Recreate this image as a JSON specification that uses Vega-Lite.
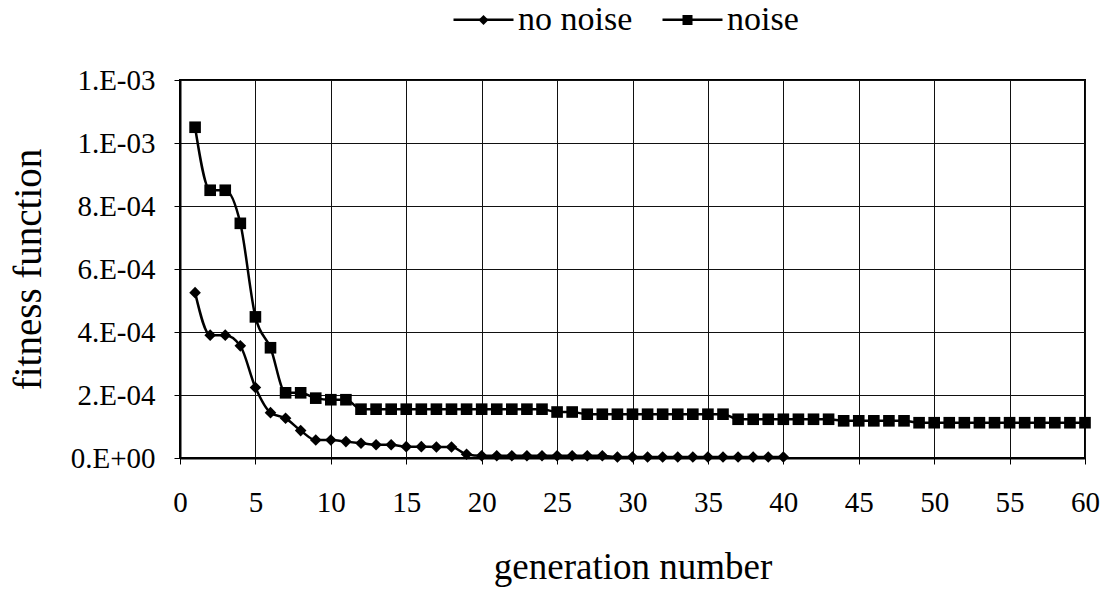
{
  "$schema": "https://vega.github.io/schema/vega-lite/v6.json",
  "width": 905,
  "height": 378,
  "autosize": {"type": "none"},
  "padding": {"left": 180, "top": 80, "right": 24, "bottom": 135},
  "background": "white",
  "config": {
    "font": "Liberation Serif",
    "view": {"stroke": "black", "strokeWidth": 2},
    "legend": {"labelFont": "Liberation Serif", "labelFontSize": 34, "labelColor": "black"}
  },
  "data": {
    "values": [
      {"gen": 1, "series": "no noise", "value": 0.000525},
      {"gen": 2, "series": "no noise", "value": 0.00039},
      {"gen": 3, "series": "no noise", "value": 0.00039},
      {"gen": 4, "series": "no noise", "value": 0.000356},
      {"gen": 5, "series": "no noise", "value": 0.000224},
      {"gen": 6, "series": "no noise", "value": 0.000144},
      {"gen": 7, "series": "no noise", "value": 0.000126},
      {"gen": 8, "series": "no noise", "value": 0.000087},
      {"gen": 9, "series": "no noise", "value": 0.000057},
      {"gen": 10, "series": "no noise", "value": 0.000057},
      {"gen": 11, "series": "no noise", "value": 0.000052},
      {"gen": 12, "series": "no noise", "value": 0.000047},
      {"gen": 13, "series": "no noise", "value": 0.000042},
      {"gen": 14, "series": "no noise", "value": 0.000042},
      {"gen": 15, "series": "no noise", "value": 0.000036},
      {"gen": 16, "series": "no noise", "value": 0.000036},
      {"gen": 17, "series": "no noise", "value": 0.000035},
      {"gen": 18, "series": "no noise", "value": 0.000035},
      {"gen": 19, "series": "no noise", "value": 0.000012},
      {"gen": 20, "series": "no noise", "value": 0.000007},
      {"gen": 21, "series": "no noise", "value": 0.000007},
      {"gen": 22, "series": "no noise", "value": 0.000007},
      {"gen": 23, "series": "no noise", "value": 0.000007},
      {"gen": 24, "series": "no noise", "value": 0.000007},
      {"gen": 25, "series": "no noise", "value": 0.000007},
      {"gen": 26, "series": "no noise", "value": 0.000007},
      {"gen": 27, "series": "no noise", "value": 0.000007},
      {"gen": 28, "series": "no noise", "value": 0.000007},
      {"gen": 29, "series": "no noise", "value": 0.000003},
      {"gen": 30, "series": "no noise", "value": 0.000003},
      {"gen": 31, "series": "no noise", "value": 0.000003},
      {"gen": 32, "series": "no noise", "value": 0.000003},
      {"gen": 33, "series": "no noise", "value": 0.000003},
      {"gen": 34, "series": "no noise", "value": 0.000003},
      {"gen": 35, "series": "no noise", "value": 0.000003},
      {"gen": 36, "series": "no noise", "value": 0.000003},
      {"gen": 37, "series": "no noise", "value": 0.000003},
      {"gen": 38, "series": "no noise", "value": 0.000003},
      {"gen": 39, "series": "no noise", "value": 0.000003},
      {"gen": 40, "series": "no noise", "value": 0.000003},
      {"gen": 1, "series": "noise", "value": 0.00105},
      {"gen": 2, "series": "noise", "value": 0.00085},
      {"gen": 3, "series": "noise", "value": 0.00085},
      {"gen": 4, "series": "noise", "value": 0.000745},
      {"gen": 5, "series": "noise", "value": 0.000448},
      {"gen": 6, "series": "noise", "value": 0.00035},
      {"gen": 7, "series": "noise", "value": 0.000207},
      {"gen": 8, "series": "noise", "value": 0.000207},
      {"gen": 9, "series": "noise", "value": 0.00019},
      {"gen": 10, "series": "noise", "value": 0.000185},
      {"gen": 11, "series": "noise", "value": 0.000185},
      {"gen": 12, "series": "noise", "value": 0.000155},
      {"gen": 13, "series": "noise", "value": 0.000155},
      {"gen": 14, "series": "noise", "value": 0.000155},
      {"gen": 15, "series": "noise", "value": 0.000155},
      {"gen": 16, "series": "noise", "value": 0.000155},
      {"gen": 17, "series": "noise", "value": 0.000155},
      {"gen": 18, "series": "noise", "value": 0.000155},
      {"gen": 19, "series": "noise", "value": 0.000155},
      {"gen": 20, "series": "noise", "value": 0.000155},
      {"gen": 21, "series": "noise", "value": 0.000155},
      {"gen": 22, "series": "noise", "value": 0.000155},
      {"gen": 23, "series": "noise", "value": 0.000155},
      {"gen": 24, "series": "noise", "value": 0.000155},
      {"gen": 25, "series": "noise", "value": 0.000146},
      {"gen": 26, "series": "noise", "value": 0.000146},
      {"gen": 27, "series": "noise", "value": 0.000139},
      {"gen": 28, "series": "noise", "value": 0.000139},
      {"gen": 29, "series": "noise", "value": 0.000139},
      {"gen": 30, "series": "noise", "value": 0.000139},
      {"gen": 31, "series": "noise", "value": 0.000139},
      {"gen": 32, "series": "noise", "value": 0.000139},
      {"gen": 33, "series": "noise", "value": 0.000139},
      {"gen": 34, "series": "noise", "value": 0.000139},
      {"gen": 35, "series": "noise", "value": 0.000139},
      {"gen": 36, "series": "noise", "value": 0.000139},
      {"gen": 37, "series": "noise", "value": 0.000123},
      {"gen": 38, "series": "noise", "value": 0.000123},
      {"gen": 39, "series": "noise", "value": 0.000123},
      {"gen": 40, "series": "noise", "value": 0.000123},
      {"gen": 41, "series": "noise", "value": 0.000123},
      {"gen": 42, "series": "noise", "value": 0.000123},
      {"gen": 43, "series": "noise", "value": 0.000123},
      {"gen": 44, "series": "noise", "value": 0.000118},
      {"gen": 45, "series": "noise", "value": 0.000118},
      {"gen": 46, "series": "noise", "value": 0.000118},
      {"gen": 47, "series": "noise", "value": 0.000118},
      {"gen": 48, "series": "noise", "value": 0.000118},
      {"gen": 49, "series": "noise", "value": 0.000112},
      {"gen": 50, "series": "noise", "value": 0.000112},
      {"gen": 51, "series": "noise", "value": 0.000112},
      {"gen": 52, "series": "noise", "value": 0.000112},
      {"gen": 53, "series": "noise", "value": 0.000112},
      {"gen": 54, "series": "noise", "value": 0.000112},
      {"gen": 55, "series": "noise", "value": 0.000112},
      {"gen": 56, "series": "noise", "value": 0.000112},
      {"gen": 57, "series": "noise", "value": 0.000112},
      {"gen": 58, "series": "noise", "value": 0.000112},
      {"gen": 59, "series": "noise", "value": 0.000112},
      {"gen": 60, "series": "noise", "value": 0.000112}
    ]
  },
  "encoding": {
    "x": {
      "field": "gen",
      "type": "quantitative",
      "scale": {"domain": [0, 60], "nice": false},
      "axis": {
        "title": "generation number",
        "values": [0, 5, 10, 15, 20, 25, 30, 35, 40, 45, 50, 55, 60],
        "grid": true,
        "gridColor": "#111",
        "gridWidth": 1,
        "gridOpacity": 1,
        "domainColor": "black",
        "domainWidth": 2,
        "tickColor": "black",
        "tickSize": 6,
        "tickWidth": 1,
        "labelFontSize": 29,
        "labelColor": "black",
        "labelPadding": 24,
        "labelFlush": false,
        "titleFontSize": 37,
        "titleFontWeight": "normal",
        "titleColor": "black",
        "titleBaseline": "alphabetic",
        "titleY": 120
      }
    },
    "y": {
      "field": "value",
      "type": "quantitative",
      "scale": {"domain": [0, 0.0012], "nice": false},
      "axis": {
        "title": "fitness function",
        "values": [0, 0.0002, 0.0004, 0.0006, 0.0008, 0.001, 0.0012],
        "labelExpr": "datum.value == 0 ? '0.E+00' : (datum.value < 0.0009 ? round(datum.value * 10000) + '.E-04' : '1.E-03')",
        "grid": true,
        "gridColor": "#111",
        "gridWidth": 1,
        "gridOpacity": 1,
        "domainColor": "black",
        "domainWidth": 2,
        "tickColor": "black",
        "tickSize": 6,
        "tickWidth": 1,
        "labelFontSize": 29,
        "labelColor": "black",
        "labelPadding": 19,
        "labelFlush": false,
        "titleFontSize": 39,
        "titleFontWeight": "normal",
        "titleColor": "black",
        "titleBaseline": "middle",
        "titleAlign": "center",
        "titleX": -152,
        "titleY": 189,
        "titleAngle": -90
      }
    }
  },
  "layer": [
    {
      "mark": {"type": "line", "strokeWidth": 2.5, "interpolate": "monotone"},
      "encoding": {
        "color": {
          "field": "series",
          "type": "nominal",
          "scale": {"domain": ["no noise", "noise"], "range": ["black", "black"]},
          "legend": {
            "title": null,
            "orient": "none",
            "direction": "horizontal",
            "columns": 2,
            "legendX": 272,
            "legendY": -92,
            "padding": 0,
            "symbolType": "stroke",
            "symbolSize": 3600,
            "symbolStrokeWidth": 2.5,
            "symbolStrokeColor": "black",
            "labelFont": "Liberation Serif",
            "labelFontSize": 34,
            "labelColor": "black",
            "labelOffset": 3,
            "columnPadding": 24
          }
        }
      }
    },
    {
      "mark": {"type": "point", "filled": true, "color": "black", "opacity": 1, "size": 135},
      "encoding": {
        "shape": {
          "field": "series",
          "type": "nominal",
          "scale": {"range": ["diamond", "square"]},
          "legend": {
            "title": null,
            "orient": "none",
            "direction": "horizontal",
            "columns": 2,
            "legendX": 286.5,
            "legendY": -77,
            "padding": 0,
            "symbolSize": 100,
            "symbolFillColor": "black",
            "labelExpr": "''",
            "labelFont": "Liberation Serif",
            "labelFontSize": 34,
            "labelOffset": 0,
            "columnPadding": 170
          }
        }
      }
    }
  ]
}
